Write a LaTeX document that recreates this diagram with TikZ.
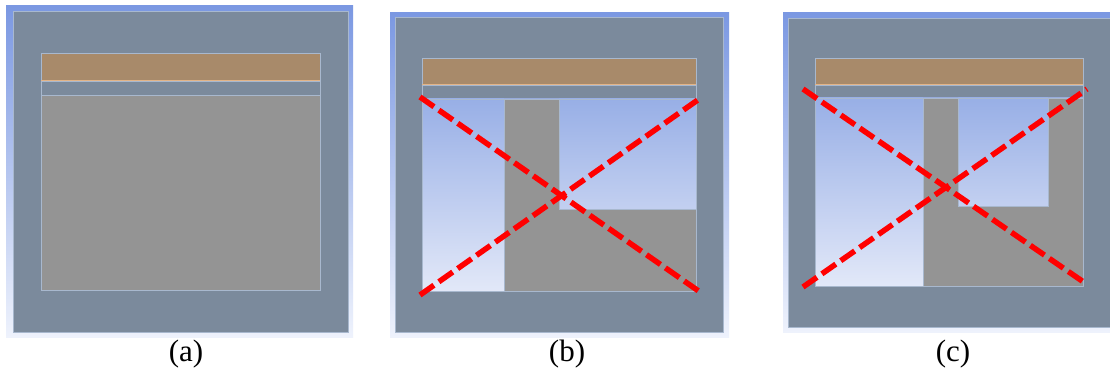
\documentclass[tikz,border=0pt]{standalone}
\usepackage{fontspec}
\setmainfont{Liberation Serif}
\begin{document}
\begin{tikzpicture}[x=1pt,y=-1pt,
  bgshade/.style={top color=bgtop,bottom color=bgbot,draw=none},
  frame/.style={fill=frameblue,draw=edgeline,line width=0.8pt},
  beam/.style={fill=beamtan,draw=edgeline,line width=0.8pt},
  strip/.style={fill=frameblue,draw=edgeline,line width=0.8pt},
  solid/.style={fill=solidgray,draw=edgeline,line width=0.8pt},
  voidshade/.style={top color=voidtop,bottom color=voidbot,draw=edgeline,line width=0.8pt},
  cross/.style={draw=red,line width=5.5pt,dash pattern=on 17pt off 6pt},
  caption/.style={font=\fontsize{31}{34}\selectfont,inner sep=0pt}]
\definecolor{bgtop}{HTML}{7B98E2}
\definecolor{bgbot}{HTML}{EEF2FC}
\definecolor{frameblue}{HTML}{7B8A9C}
\definecolor{edgeline}{HTML}{A8B8CE}
\definecolor{beamtan}{HTML}{A88A6A}
\definecolor{beamedge}{HTML}{E2B488}
\definecolor{solidgray}{HTML}{949494}
\definecolor{voidtop}{HTML}{98AFE6}
\definecolor{voidbot}{HTML}{E2E8F8}
\useasboundingbox[fill=white] (0,0) rectangle (1110,374);

% ---------- (a)
\path[bgshade] (6,6) rectangle (353,337);
\path[frame] (13,11) rectangle (348,332);
\path[beam] (41,53) rectangle (320,81);
\draw[beamedge,line width=1pt] (41,81) -- (320,81);
\path[strip] (41,81) rectangle (320,95);
\path[solid] (41,95) rectangle (320,290);
\node[caption] (capa) at (186,354) {(a)};

% ---------- (b)
\path[bgshade] (390,13) rectangle (729,337);
\path[frame] (395,17) rectangle (723,332);
\path[beam] (422,58) rectangle (696,85);
\draw[beamedge,line width=1pt] (422,85) -- (696,85);
\path[strip] (422,85) rectangle (696,99);
\path[voidshade] (422,99) rectangle (696,291);
\path[solid] (504,99) -- (559,99) -- (559,209) -- (696,209) -- (696,291) -- (504,291) -- cycle;
\coordinate (b1) at (420,97);
\coordinate (b2) at (700,292);
\coordinate (b3) at (420,295);
\coordinate (b4) at (702,97);
\draw[cross] (b1) -- (b2);
\draw[cross] (b3) -- (b4);
\node[caption] (capb) at (567,354) {(b)};

% ---------- (c)
\path[bgshade] (783,13) rectangle (1110,332);
\path[frame] (788,18) rectangle (1112,327);
\path[beam] (815,58) rectangle (1083,85);
\draw[beamedge,line width=1pt] (815,85) -- (1083,85);
\path[strip] (815,85) rectangle (1083,98);
\path[voidshade] (815,98) rectangle (1083,286);
\path[solid] (923,98) -- (958,98) -- (958,206) -- (1048,206) -- (1048,98) -- (1083,98) -- (1083,286) -- (923,286) -- cycle;
\coordinate (c1) at (803,89);
\coordinate (c2) at (1085,283);
\coordinate (c3) at (803,287);
\coordinate (c4) at (1087,89);
\draw[cross] (c1) -- (c2);
\draw[cross] (c3) -- (c4);
\node[caption] (capc) at (953,354) {(c)};
\end{tikzpicture}
\end{document}
